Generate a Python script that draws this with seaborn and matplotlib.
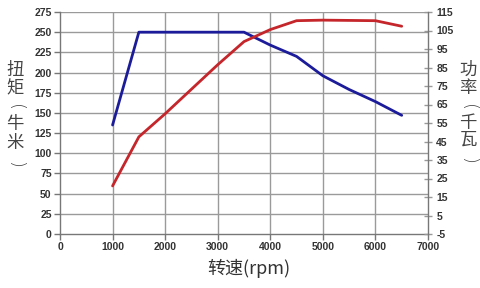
import matplotlib
matplotlib.use("Agg")
import matplotlib.pyplot as plt
import seaborn as sns
import pandas as pd

rpm_torque = [1000, 1500, 3500, 4000, 4500, 5000, 5500, 6000, 6500]
torque = [135, 250, 250, 234, 220, 196, 179, 164, 147]
rpm_power = [1000, 1500, 2000, 3000, 3500, 4000, 4500, 5000, 6000, 6500]
power = [21, 47.5, 60, 86.5, 99, 105.5, 110.3, 110.6, 110.3, 107.3]

x_ticks = list(range(0, 7001, 1000))
left_ticks = list(range(0, 276, 25))
right_ticks = list(range(-5, 116, 10))

left_label = ["扭", "矩", "(", "牛", "米", ")"]
right_label = ["功", "率", "(", "千", "瓦", ")"]
x_label = "转速(rpm)"

sns.set_theme(style="white")
plt.rcParams['font.family'] = ['Noto Sans CJK SC', 'DejaVu Sans']

W, H = 480, 288
fig = plt.figure(figsize=(4.8, 2.88), dpi=100)
ax = fig.add_axes([60 / W, 1 - 234 / H, 368 / W, 222 / H])
ax2 = ax.twinx()

df_t = pd.DataFrame({"rpm": rpm_torque, "torque": torque})
df_p = pd.DataFrame({"rpm": rpm_power, "power": power})

grid_c = "#9a9a9a"
for xv in x_ticks[1:-1]:
    ax.axvline(xv, color=grid_c, lw=1.0, zorder=0)
for yv in left_ticks[1:]:
    ax.axhline(yv, color=grid_c, lw=1.0, zorder=0)

sns.lineplot(data=df_t, x="rpm", y="torque", ax=ax, color="#1c1c9a", lw=2.0, zorder=3)
sns.lineplot(data=df_p, x="rpm", y="power", ax=ax2, color="#c4262b", lw=2.0, zorder=3)

ax.set_xlim(0, 7000)
ax.set_ylim(0, 275)
ax2.set_ylim(-5, 115)
ax.set_xticks(x_ticks)
ax.set_yticks(left_ticks)
ax2.set_yticks(right_ticks)

tick_font = dict(family=['Liberation Sans', 'DejaVu Sans'], weight='bold', size=7.5)
ax.set_xticklabels([str(v) for v in x_ticks], **tick_font, color="#333333")
ax.set_yticklabels([str(v) for v in left_ticks], **tick_font, color="#333333")
ax2.set_yticklabels([str(v) for v in right_ticks], **tick_font, color="#333333")

for a in (ax, ax2):
    for s in a.spines.values():
        s.set_visible(False)
ax.spines['left'].set_visible(True)
ax.spines['bottom'].set_visible(True)
ax2.spines['right'].set_visible(True)
for s in (ax.spines['left'], ax.spines['bottom'], ax2.spines['right']):
    s.set_color("#777777")
    s.set_linewidth(1.0)

ax.tick_params(axis='x', direction='out', length=4, width=1, color="#777777", pad=2, bottom=True)
ax.tick_params(axis='y', direction='out', length=4, width=1, color="#777777", pad=2, left=True)
ax2.tick_params(axis='y', direction='inout', length=6, width=1, color="#999999", pad=3, right=True)

ax.set_xlabel("")
ax.set_ylabel("")
ax2.set_ylabel("")

fig.text(249 / W, 1 - 268 / H, x_label, ha='center', va='center', fontsize=13, color="#333333")


def vertical_label(chars, xc, ys):
    for ch, yc in zip(chars, ys):
        if ch in "()":
            fig.text(xc / W, 1 - yc / H, ch, ha='center', va='center', fontsize=13,
                     color="#444444", rotation=-90, rotation_mode='anchor',
                     family=['DejaVu Sans'], fontweight='light')
        else:
            fig.text(xc / W, 1 - yc / H, ch, ha='center', va='center', fontsize=12.5,
                     color="#444444")


vertical_label(left_label, 15, [70, 88, 108, 124, 143, 164])
vertical_label(right_label, 468, [70, 88, 107, 123, 140, 160])

fig.savefig("out.png", dpi=100, facecolor="white")
